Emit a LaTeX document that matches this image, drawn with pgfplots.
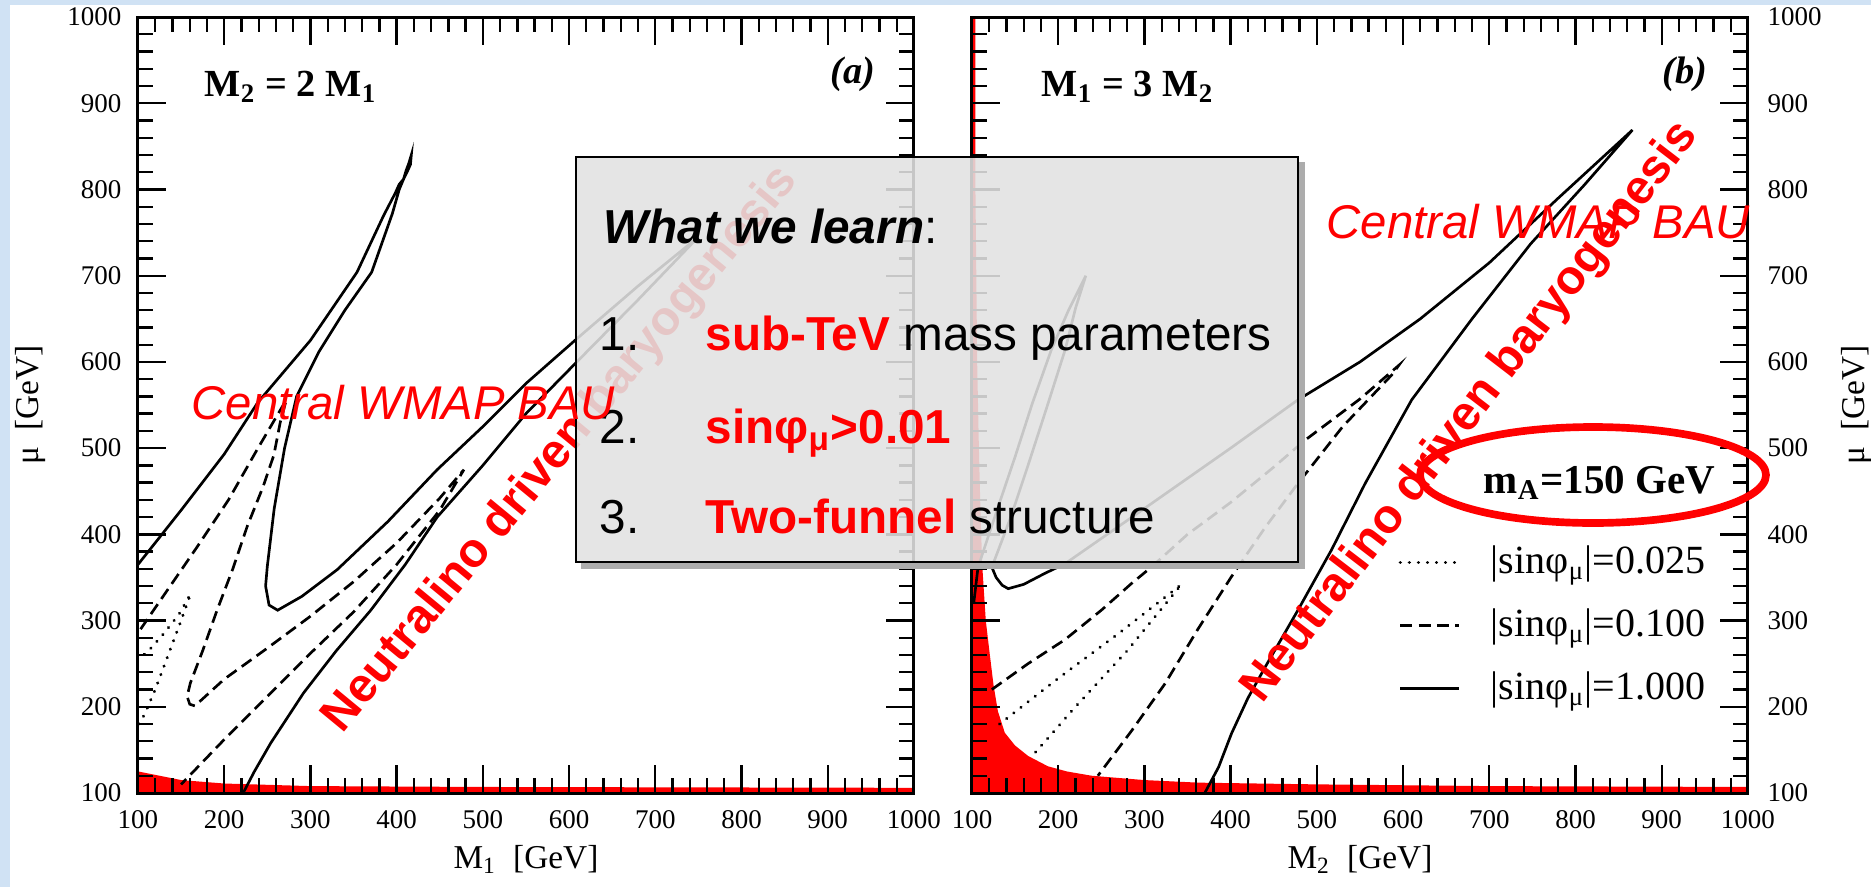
\documentclass[border=0pt]{standalone}
\usepackage{fontspec}
\setmainfont{Liberation Serif}
\newfontfamily\arial{Liberation Sans}
\usepackage{pgfplots}
\pgfplotsset{compat=1.18}
\definecolor{bgblue}{RGB}{208,226,244}
\definecolor{boxgray}{RGB}{226,226,226}
\definecolor{pured}{RGB}{255,0,0}

\pgfplotsset{
  myax/.style={
    scale only axis, width=232.8pt, height=232.8pt,
    xmin=100, xmax=1000, ymin=100, ymax=1000,
    xtick={100,200,...,1000}, ytick={100,200,...,1000},
    minor x tick num=4, minor y tick num=4,
    major tick length=8.4pt, minor tick length=4.5pt,
    tick align=inside,
    tick style={black, line width=0.7pt},
    axis line style={line width=0.9pt},
    axis on top,
    /pgf/number format/assume math mode=true,
    /pgf/number format/1000 sep={},
    tick label style={font=\fontsize{8.1}{9}\selectfont},
    xticklabel style={anchor=center, yshift=-8.1pt},
    every axis x label/.style={at={(axis description cs:0.5,-0.086)}, anchor=center},
    label style={font=\fontsize{10}{12}\selectfont},
  },
  solidc/.style={black, line width=0.8pt},
  dashc/.style={black, line width=0.8pt, dash pattern=on 3.6pt off 1.9pt},
  dotc/.style={black, line width=1.0pt, line cap=round, dash pattern=on 0.01pt off 2.7pt},
}

\begin{document}
\begin{tikzpicture}[x=0.3pt,y=-0.3pt]
\useasboundingbox (0,0) rectangle (1871,887);
\fill[white] (0,0) rectangle (1871,887);
\fill[bgblue] (0,0) rectangle (10,887);
\fill[bgblue] (0,0) rectangle (1871,5);

% ---------------- left panel (a)
\begin{axis}[myax, at={(41.4pt,-237.9pt)}, anchor=south west,
  yticklabel style={anchor=east, inner sep=0pt, xshift=-4.8pt},
  every axis y label/.style={at={(axis description cs:-0.139,0.5)}, rotate=90, anchor=center},
  xlabel={M\textsubscript{1}\ \ [GeV]}, ylabel={μ\ \ [GeV]}]
\addplot[fill=pured, draw=none, forget plot] coordinates {
 (100,100) (100,125) (120,121) (150,115) (200,111) (300,108) (500,107) (1000,106) (1000,100)} -- cycle;
% solid contour
\addplot[solidc, forget plot] coordinates {
 (100,365) (150,428) (200,493) (239,553) (300,625) (354,704) (385,770) (398,795)
 (403,806) (408,812) (411,822) (414,830) (417,840) (416,829) (412,820) (408,812)
 (403,800) (395,772) (371,704) (340,660) (310,612) (284,560) (270,500) (258,430)
 (250,363) (248,340) (252,318) (262,312) (290,328) (331,359) (390,415) (447,475)
 (500,525) (550,575) (608,626) (680,688) (750,745) (680,672) (608,599) (550,540)
 (500,480) (447,420) (410,365) (370,312) (330,265) (292,216) (254,158) (235,125) (222,100)};
% dashed contour
\addplot[dashc, forget plot] coordinates {
 (103,290) (116,309) (169,386) (205,440) (238,498) (255,527) (272,556) (265,530)
 (257.6,492) (245,455) (226.6,409) (210,360) (191.7,312) (175,265) (160.7,227.5)
 (157,212) (160,203) (166,201) (200,232) (250,268) (300,305) (350,345) (400,390)
 (450,442) (478,475) (450,428) (400,365) (350,310) (300,262) (250,212) (200,162) (150,110)};
% dotted contours
\addplot[dotc, forget plot] coordinates {
 (101,180) (107,190) (120,220) (135,260) (150,300) (161,331) (148,308) (130,285) (115,268) (101,255)};
\node[anchor=base west, inner sep=0pt, font=\bfseries\fontsize{11.5}{13}\selectfont]
  at (rel axis cs:0.085,0.898) {M\textsubscript{2} = 2 M\textsubscript{1}};
\node[anchor=base west, inner sep=0pt, font=\bfseries\itshape\fontsize{11.5}{13}\selectfont]
  at (rel axis cs:0.892,0.914) {(a)};
\end{axis}

% ---------------- right panel (b)
\begin{axis}[myax, at={(291.6pt,-237.9pt)}, anchor=south west,
  yticklabel pos=right,
  yticklabel style={anchor=west, inner sep=0pt, xshift=5.7pt},
  every axis y label/.style={at={(axis description cs:1.1405,0.5)}, rotate=90, anchor=center},
  xlabel={M\textsubscript{2}\ \ [GeV]}, ylabel={μ\ \ [GeV]},
  legend style={at={(axis description cs:0.549,0.318)}, anchor=north west, draw=none, fill=none,
    inner sep=0pt, row sep=7.9pt, font=\fontsize{12}{14}\selectfont,
    nodes={inner sep=0pt, text height=8pt, text depth=3pt},
    /tikz/every odd column/.append style={column sep=9pt}},
  legend cell align=left,
  legend image code/.code={\draw[#1] (0pt,0.9pt) -- (17.7pt,0.9pt);}]
\addplot[fill=pured, draw=none, forget plot] coordinates {
 (100,100) (100,1000) (104,1000) (104,800) (105,700) (106,600) (108,500) (110,420) (112,362)
 (116,300) (120,266) (125,225) (130,195) (138,170) (150,155) (165,143) (188,131)
 (210,125) (239,120) (300,115) (363,112) (500,110) (700,108) (1000,107) (1000,100)} -- cycle;
\addplot[solidc, forget plot] coordinates {
 (102,320) (107,362) (128,425) (150,490) (170,552) (192,614) (212,660) (232,700)
 (220,662) (208,614) (187,548) (165,480) (145,420) (128,375) (123,362) (128,350)
 (135,341) (142,337) (160,342) (185,355) (208,366) (300,430) (400,500) (478,556)
 (550,600) (620,650) (700,715) (780,790) (866,869) (810,805) (748,737) (680,650)
 (610,556) (556,459) (517,382) (478,312) (440,246) (420,210) (401,169) (386,130) (378,115) (370,100)};
\addplot[dashc, forget plot] coordinates {
 (123,220) (165,250) (208,278) (250,312) (285,343) (308,362) (350,400) (400,437)
 (450,478) (486,509) (550,557) (595,596) (587,585) (530,525) (478,459) (440,408)
 (401,351) (362,290) (324,227) (285,172) (246,120)};
\addplot[dotc, forget plot] coordinates {
 (132,180) (200,233) (270,285) (343,342) (280,265) (220,200) (169,142)};
\addlegendimage{dotc}
\addlegendentry{|sinφ\textsubscript{μ}|=0.025}
\addlegendimage{dashc}
\addlegendentry{|sinφ\textsubscript{μ}|=0.100}
\addlegendimage{solidc}
\addlegendentry{|sinφ\textsubscript{μ}|=1.000}
\node[anchor=base west, inner sep=0pt, font=\bfseries\fontsize{12.3}{14}\selectfont]
  at (rel axis cs:0.6585,0.3866) {m\textsubscript{A}=150 GeV};
\node[anchor=base west, inner sep=0pt, font=\bfseries\fontsize{11.5}{13}\selectfont]
  at (rel axis cs:0.089,0.898) {M\textsubscript{1} = 3 M\textsubscript{2}};
\node[anchor=base west, inner sep=0pt, font=\bfseries\itshape\fontsize{11.5}{13}\selectfont]
  at (rel axis cs:0.889,0.914) {(b)};
\end{axis}

% ---------------- annotations
\tikzset{neut/.style={anchor=base west, inner sep=0pt, font=\arial\bfseries\fontsize{14.4}{16}\selectfont},
         cent/.style={anchor=base west, inner sep=0pt, font=\arial\itshape\fontsize{14.2}{16}\selectfont},
         boxt/.style={anchor=base west, inner sep=0pt, font=\arial\fontsize{14.3}{16}\selectfont}}
% left rotated text (under the box)
\node[neut, rotate=50.5, text=pured] at (342,735) {Neutralino driven baryogenesis};

% box
\fill[gray!65] (1299,162) rectangle (1305,569);
\fill[gray!65] (581,563) rectangle (1305,569);
\fill[boxgray, fill opacity=0.88] (575,156) rectangle (1299,563);
\draw[black, line width=0.8pt] (576,157) rectangle (1298,562);
\node[boxt] at (603,243) {\textbf{\textit{What we learn}}:};
\node[boxt] at (599,350) {1.};
\node[boxt] at (705,350) {\textcolor{pured}{\textbf{sub-TeV}} mass parameters};
\node[boxt] at (599,443) {2.};
\node[boxt] at (705,443) {\textcolor{pured}{\textbf{sinφ\textsubscript{μ}>0.01}}};
\node[boxt] at (599,533) {3.};
\node[boxt] at (705,533) {\textcolor{pured}{\textbf{Two-funnel}} structure};

% left central text
\node[cent, text=pured] at (191,419) {Central WMAP BAU};
% right texts
\node[cent, text=pured] at (1326,238) {Central WMAP BAU};
\node[neut, rotate=52.5, text=pured] at (1262,705) {Neutralino driven baryogenesis};
% ellipse
\draw[pured, line width=2.3pt] (1593,475) ellipse [x radius=51.9pt, y radius=14.4pt];
\end{tikzpicture}
\end{document}
